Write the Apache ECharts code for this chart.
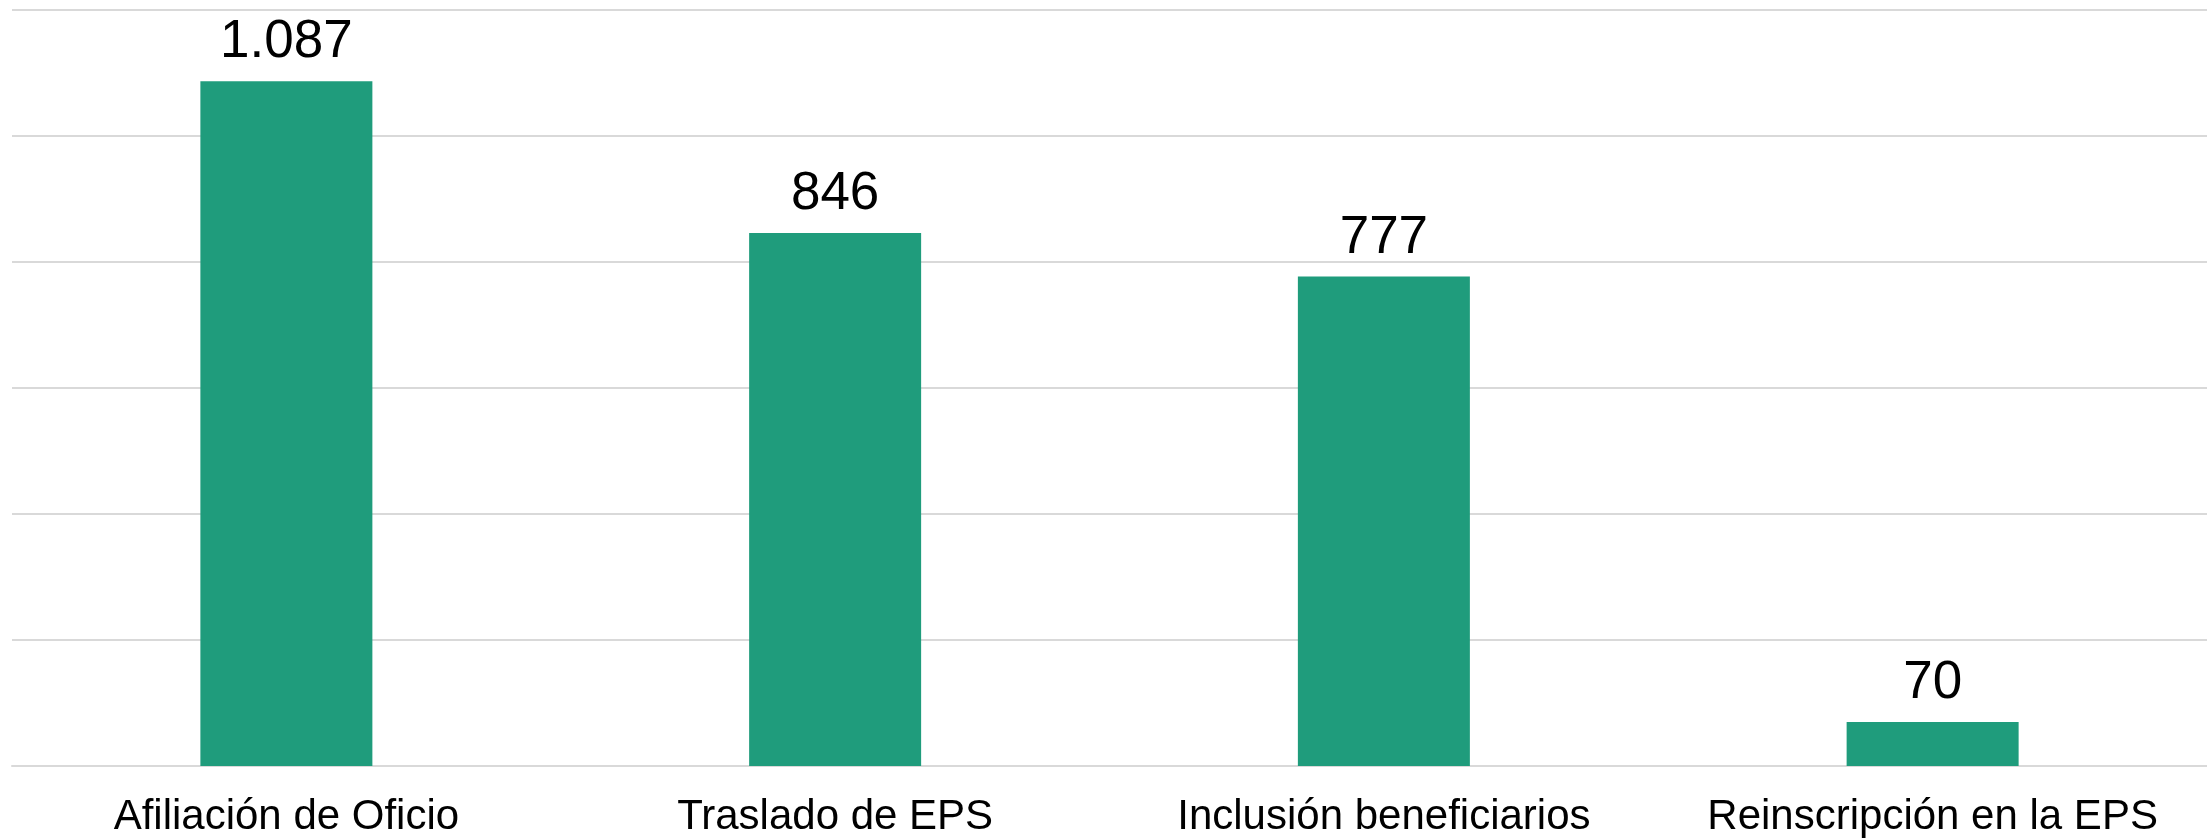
<!DOCTYPE html>
<html>
<head>
<meta charset="utf-8">
<script src="https://cdn.jsdelivr.net/npm/echarts@6/dist/echarts.min.js"></script>
<style>
html,body{margin:0;padding:0;background:#fff;}
#chart{width:2207px;height:840px;}
</style>
</head>
<body>
<div id="chart"></div>
<script>
const categories = ['Afiliación de Oficio', 'Traslado de EPS', 'Inclusión beneficiarios', 'Reinscripción en la EPS'];
const values = [1087, 846, 777, 70];
const yMin = 0, yMax = 1200, yInterval = 200;

function fmt(v) {
  return String(v).replace(/\B(?=(\d{3})+(?!\d))/g, '.');
}

const chart = echarts.init(document.getElementById('chart'), null, {renderer: 'canvas'});
chart.setOption({
  animation: false,
  backgroundColor: '#ffffff',
  grid: {left: 12, right: 0, top: 10, bottom: 74, containLabel: false},
  xAxis: {
    type: 'category',
    data: categories,
    axisLine: {show: true, lineStyle: {color: '#d9d9d9', width: 2}},
    axisTick: {show: false},
    axisLabel: {
      color: '#000000',
      fontFamily: 'Liberation Sans, Arial, sans-serif',
      fontSize: 42,
      margin: 30,
      interval: 0
    }
  },
  yAxis: {
    type: 'value',
    min: yMin, max: yMax, interval: yInterval,
    axisLine: {show: false},
    axisTick: {show: false},
    axisLabel: {show: false},
    splitLine: {show: true, lineStyle: {color: '#d9d9d9', width: 2}}
  },
  series: [{
    type: 'bar',
    data: values,
    barWidth: 172,
    itemStyle: {color: '#1f9c7c'},
    label: {
      show: true,
      position: 'top',
      distance: 12,
      color: '#000000',
      fontFamily: 'Liberation Sans, Arial, sans-serif',
      fontSize: 53,
      formatter: p => fmt(p.value)
    }
  }]
});
</script>
</body>
</html>
